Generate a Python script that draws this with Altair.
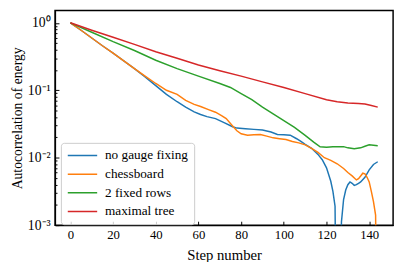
import json
import altair as alt
import pandas as pd

series_names = ["no gauge fixing", "chessboard", "2 fixed rows", "maximal tree"]
series_colors = ["#1f77b4", "#ff7f0e", "#2ca02c", "#d62728"]

# common start of "no gauge fixing" and "chessboard"
shared_steps = [0, 5, 10, 15, 20, 25, 30]
shared_vals = [1.0, 0.776, 0.596, 0.457, 0.355, 0.272, 0.209]

blue_steps = [35, 40, 45, 50, 54, 58, 61, 64, 68, 72, 76, 78, 82, 86, 90, 94, 97, 100,
              103, 106, 108, 110, 113, 116, 118, 120, 122, 123, 124, 125, 126, 127, 128,
              129, 130, 131, 132, 133, 134, 135, 136, 138, 140, 142, 144]
blue_vals = [0.158, 0.117, 0.0871, 0.0676, 0.0562, 0.0479, 0.0437, 0.0407, 0.0380, 0.0331,
             0.0288, 0.0275, 0.0269, 0.0263, 0.0257, 0.0240, 0.0221, 0.0219, 0.0216, 0.0191,
             0.0174, 0.0158, 0.0138, 0.0112, 0.00933, 0.00708, 0.00447, 0.00316, 0.00191,
             0.000001, 0.000001, 0.00112, 0.0024, 0.00331, 0.00398, 0.00437, 0.00417,
             0.00389, 0.00398, 0.00417, 0.00437, 0.00513, 0.00661, 0.00794, 0.00871]

orange_steps = [35, 40, 45, 50, 54, 58, 61, 65, 68, 71, 73, 76, 78, 80, 83, 86, 89, 92, 95,
                98, 101, 104, 107, 110, 113, 116, 119, 122, 125, 128, 130, 132, 134, 135,
                136, 137, 138, 139, 140, 141, 142, 143, 144]
orange_vals = [0.162, 0.126, 0.100, 0.0871, 0.0708, 0.0617, 0.0575, 0.0513, 0.0473, 0.0417,
               0.0380, 0.0295, 0.0251, 0.0226, 0.0216, 0.0219, 0.0221, 0.0209, 0.0197, 0.0191,
               0.0186, 0.0174, 0.0166, 0.0155, 0.0138, 0.0120, 0.0100, 0.00912, 0.00813,
               0.00692, 0.00603, 0.00537, 0.00468, 0.00490, 0.00537, 0.00589, 0.00575,
               0.00513, 0.00437, 0.00316, 0.00224, 0.00141, 0.000001]

green_steps = [0, 10, 20, 30, 40, 50, 60, 70, 75, 80, 85, 90, 95, 100, 105, 110, 114, 117,
               120, 123, 126, 128, 130, 133, 136, 138, 140, 142, 144]
green_vals = [1.0, 0.724, 0.525, 0.389, 0.279, 0.209, 0.162, 0.126, 0.110, 0.0891, 0.0724,
              0.0562, 0.0447, 0.0355, 0.0282, 0.0214, 0.0170, 0.0145, 0.0143, 0.0145, 0.0145,
              0.0146, 0.0140, 0.0136, 0.0140, 0.0148, 0.0155, 0.0153, 0.0150]

red_steps = [0, 10, 20, 30, 40, 50, 60, 70, 80, 90, 100, 110, 120, 125, 130, 135, 138, 141, 144]
red_vals = [1.0, 0.776, 0.610, 0.479, 0.372, 0.299, 0.237, 0.195, 0.162, 0.133, 0.110,
            0.0891, 0.0724, 0.0676, 0.0646, 0.0638, 0.0624, 0.0596, 0.0562]

x_ticks = [0, 20, 40, 60, 80, 100, 120, 140]
y_major = [0.001, 0.01, 0.1, 1]
y_major_labels = ["10⁻³", "10⁻²", "10⁻¹", "10⁰"]
y_minor = [m * d for d in (0.001, 0.01, 0.1) for m in range(2, 10)]

rows = []
for s, v in zip(shared_steps + blue_steps, shared_vals + blue_vals):
    rows.append({"step": s, "value": v, "series": series_names[0]})
for s, v in zip(shared_steps + orange_steps, shared_vals + orange_vals):
    rows.append({"step": s, "value": v, "series": series_names[1]})
for s, v in zip(green_steps, green_vals):
    rows.append({"step": s, "value": v, "series": series_names[2]})
for s, v in zip(red_steps, red_vals):
    rows.append({"step": s, "value": v, "series": series_names[3]})
df = pd.DataFrame(rows)

font = "Liberation Serif"
label_expr = "{}[indexof({}, datum.value)]".format(json.dumps(y_major_labels, ensure_ascii=False),
                                                  json.dumps(y_major))

xscale = alt.Scale(domain=[-7.2, 151.2], nice=False, zero=False)
yscale = alt.Scale(type="log", domain=[0.001, 1.52], nice=False)

x_enc = alt.X("step:Q", scale=xscale, title="Step number",
              axis=alt.Axis(values=x_ticks, tickSize={"expr": "-4"}, labelPadding=8,
                            labelFontSize=13, titleFontSize=15, titlePadding=6,
                            grid=False, labelFlush=False))

lines = alt.Chart(df).mark_line(strokeWidth=1.5, clip=True).encode(
    x=x_enc,
    y=alt.Y("value:Q", scale=yscale, title="Autocorrelation of energy",
            axis=alt.Axis(values=y_major, labelExpr=label_expr, tickSize={"expr": "-4"},
                          labelPadding=9, labelFontSize=14, titleFontSize=14,
                          titlePadding=3, grid=False)),
    color=alt.Color("series:N", sort=series_names,
                    scale=alt.Scale(domain=series_names, range=series_colors),
                    legend=alt.Legend(title=None, orient="none", legendX=6, legendY=135,
                                      symbolType="stroke", symbolSize=900, clipHeight=14,
                                      symbolStrokeWidth=1.5, labelFontSize=13.5,
                                      labelFont=font,
                                      labelOffset=7, rowPadding=5, padding=6,
                                      strokeColor="#cccccc", cornerRadius=3,
                                      fillColor="rgba(255,255,255,0.8)")),
)

minor = alt.Chart(df).mark_line(opacity=0).encode(
    x=x_enc,
    y=alt.Y("value:Q", scale=yscale,
            axis=alt.Axis(values=y_minor, orient="left", labels=False, domain=False,
                          title=None, grid=False, tickSize={"expr": "-2"})),
)

chart = alt.layer(lines, minor).resolve_axis(y="independent").properties(
    width=345, height=219,
    autosize=alt.AutoSizeParams(type="none"),
    padding={"left": 48, "top": 0, "right": 5, "bottom": 35},
).configure(font=font).configure_axis(
    domainColor="black", tickColor="black", labelColor="black", titleColor="black",
    labelFont=font, titleFont=font, titleFontWeight="normal", domainWidth=1.2,
    tickWidth=1,
).configure_view(stroke="black", strokeWidth=1.5).configure_legend(
    labelFont=font, labelColor="black")

chart.save("out.html", embed_options={"renderer": "svg", "actions": False})
